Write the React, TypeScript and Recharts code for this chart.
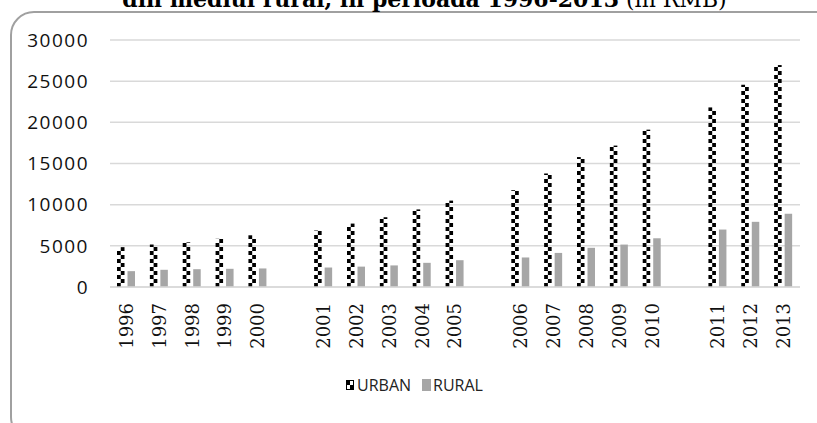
import React from 'react';
import { BarChart, Bar, XAxis, YAxis, CartesianGrid, Legend } from 'recharts';

// empty strings are the blank slots between the year groups
const categories = ['1996', '1997', '1998', '1999', '2000', '', '2001', '2002', '2003', '2004', '2005', '', '2006', '2007', '2008', '2009', '2010', '', '2011', '2012', '2013'];
const urban = [4839, 5160, 5425, 5854, 6280, null, 6860, 7703, 8472, 9422, 10493, null, 11759, 13786, 15781, 17175, 19109, null, 21810, 24565, 26955];
const rural = [1926, 2090, 2162, 2210, 2253, null, 2366, 2476, 2622, 2936, 3255, null, 3587, 4140, 4761, 5153, 5919, null, 6977, 7917, 8896];
const yTicks = [0, 5000, 10000, 15000, 20000, 25000, 30000];

const chartData = categories.map((year, i) => ({ year, urban: urban[i], rural: rural[i] }));

const RURAL_COLOR = '#a6a6a6';

// urban bars are drawn as a black/white checker column
const CheckerBar = (props: any) => {
  const { x, y, width, height } = props;
  if (!height || height <= 0) return null;
  const cell = 4;
  const half = width / 2;
  const rows = Math.ceil(height / cell);
  const cells = [];
  for (let i = 0; i < rows; i++) {
    const bottom = y + height - i * cell;
    const top = Math.max(y, bottom - cell);
    cells.push(
      <rect key={i} x={i % 2 === 0 ? x : x + half} y={top} width={half} height={bottom - top} fill="#000" />
    );
  }
  return <g>{cells}</g>;
};

const YearTick = ({ x, y, payload }: any) => {
  if (!payload.value) return null;
  return (
    <text
      transform={`translate(${x},${y}) rotate(-90)`}
      textAnchor="end"
      dy="0.36em"
      fontFamily="'DejaVu Serif'"
      fontSize={18}
      fill="#111"
    >
      {payload.value}
    </text>
  );
};

const LegendContent = () => (
  <div
    style={{
      display: 'flex',
      justifyContent: 'center',
      alignItems: 'center',
      fontFamily: "'Liberation Sans Narrow', 'Open Sans', sans-serif",
      fontSize: 16,
      color: '#222',
      lineHeight: '22px',
    }}
  >
    <svg width={8} height={10} style={{ marginRight: 3 }}>
      <rect x={0} y={0} width={4} height={5} fill="#000" />
      <rect x={4} y={5} width={4} height={5} fill="#000" />
      <rect x={0.5} y={0.5} width={7} height={9} fill="none" stroke="#000" strokeWidth={1} />
    </svg>
    <span style={{ marginRight: 11 }}>URBAN</span>
    <svg width={9} height={12} style={{ marginRight: 2 }}>
      <rect x={0} y={0} width={9} height={12} fill={RURAL_COLOR} />
    </svg>
    <span>RURAL</span>
  </div>
);

export default function App() {
  return (
    <div style={{ position: 'absolute', top: 0, left: 0, width: 817, height: 423, overflow: 'hidden', background: '#fff' }}>
      <div
        style={{
          position: 'absolute',
          top: 11,
          left: 10,
          width: 830,
          height: 430,
          border: '2px solid #a0a0a0',
          borderRadius: 24,
          boxSizing: 'border-box',
        }}
      />
      <div
        style={{
          position: 'absolute',
          top: -12,
          left: 16,
          width: 817,
          textAlign: 'center',
          fontFamily: "'DejaVu Serif', serif",
          fontSize: 22,
          lineHeight: '22px',
          whiteSpace: 'nowrap',
          color: '#000',
        }}
      >
        <b>din mediul rural, în perioada 1996-2013</b> (în RMB)
      </div>
      <div style={{ position: 'absolute', top: 0, left: 0 }}>
        <BarChart
          width={817}
          height={423}
          data={chartData}
          margin={{ top: 40, right: 17, left: 0, bottom: 66 }}
          barGap={3}
        >
          <CartesianGrid vertical={false} stroke="#d9d9d9" strokeWidth={1.5} />
          <XAxis
            dataKey="year"
            interval={0}
            height={70}
            tick={<YearTick />}
            tickLine={false}
            tickSize={0}
            tickMargin={16}
            axisLine={{ stroke: '#d9d9d9', strokeWidth: 1.5 }}
          />
          <YAxis
            width={110}
            domain={[0, 30000]}
            ticks={yTicks}
            axisLine={false}
            tickLine={false}
            tickSize={0}
            tickMargin={21}
            tick={{ fill: '#111', fontSize: 19, fontFamily: "'Open Sans'", letterSpacing: 1.5 }}
          />
          <Legend
            layout="horizontal"
            verticalAlign="middle"
            align="center"
            wrapperStyle={{ top: 374, left: 6, width: 817 }}
            content={<LegendContent />}
          />
          <Bar dataKey="urban" name="URBAN" barSize={7.5} shape={<CheckerBar />} isAnimationActive={false} />
          <Bar dataKey="rural" name="RURAL" barSize={7.5} fill={RURAL_COLOR} isAnimationActive={false} />
        </BarChart>
      </div>
    </div>
  );
}
